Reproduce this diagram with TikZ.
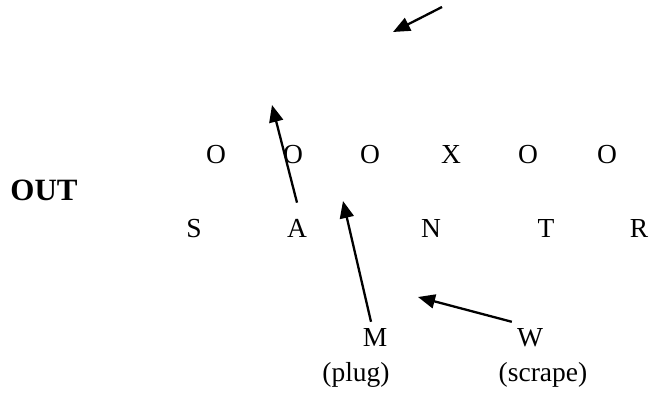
\documentclass[tikz,border=0pt]{standalone}
\usepackage{fontspec}
\setmainfont{Liberation Serif}
\usetikzlibrary{arrows.meta}
\tikzset{
  play/.style={inner sep=0pt, anchor=base, font=\fontsize{27.5}{32}\selectfont},
  move/.style={-{Triangle[length=17pt, width=14pt]}, line width=2.3pt},
}
\begin{document}
\begin{tikzpicture}[x=1pt, y=-1pt]
\useasboundingbox (0,0) rectangle (652,396);
% offense line
\node[play] (o1) at (216,163) {O};
\node[play] (o2) at (293,163) {O};
\node[play] (o3) at (370,163) {O};
\node[play] (x1) at (451,163) {X};
\node[play] (o4) at (528,163) {O};
\node[play] (o5) at (607,163) {O};
% defense
\node[play] (s) at (194,237) {S};
\node[play] (a) at (297,237) {A};
\node[play] (n) at (431,237) {N};
\node[play] (t) at (546,237) {T};
\node[play] (r) at (639,237) {R};
\node[play, font=\fontsize{31}{36}\selectfont\bfseries] (out) at (44,200) {OUT};

\node[play] (m) at (375,346) {M};
\node[play] (plug) at (356,381) {(plug)};
\node[play] (w) at (530,346) {W};
\node[play] (scrape) at (543,381) {(scrape)};

\coordinate (deep) at (442,7);
\coordinate (deeptip) at (393,32);
\coordinate (atip) at (272,105);
\coordinate (mtip) at (343,201);
\coordinate (wtip) at (418,297);

\draw[move] (deep)--(deeptip);
\draw[move] (a.north)++(0,-16)--(atip);
\draw[move] (m.north)++(-4,-6)--(mtip);
\draw[move] (w.north west)++(-5,-6)--(wtip);

\end{tikzpicture}
\end{document}
